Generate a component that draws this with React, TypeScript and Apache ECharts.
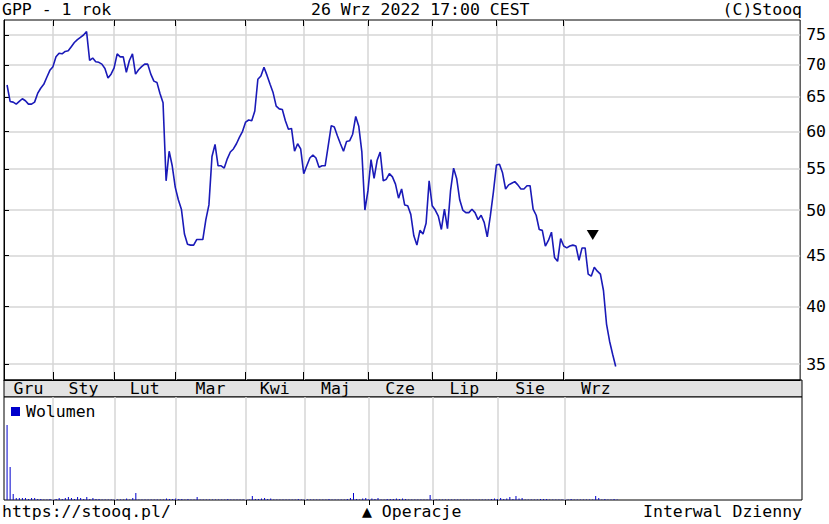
import React, { useEffect, useRef } from 'react';
import * as echarts from 'echarts';

// ---- texts ----
const HEADER_LEFT = 'GPP - 1 rok';
const HEADER_CENTER = '26 Wrz 2022 17:00 CEST';
const HEADER_RIGHT = '(C)Stooq';
const FOOTER_LEFT = 'https://stooq.pl/';
const FOOTER_CENTER = '▲ Operacje';
const FOOTER_RIGHT = 'Interwal Dzienny';
const VOLUME_NAME = 'Wolumen';

// ---- month axis (trading-day index) ----
const MONTH_NAMES = ['Gru', 'Sty', 'Lut', 'Mar', 'Kwi', 'Maj', 'Cze', 'Lip', 'Sie', 'Wrz'];
const MONTH_STARTS = [0, 16, 36, 56, 79, 98, 119, 140, 161, 183, 204];
const DAY_AXIS_MAX = 260.3;

// ---- price ticks ----
const PRICE_TICKS = [35, 40, 45, 50, 55, 60, 65, 70, 75];
const PRICE_MIN = 33.73;
const PRICE_MAX = 77.65;

// ---- closing prices by month (PLN) ----
const PRICE_DEC = [66.8, 64.3, 64.2, 63.9, 64.3, 64.7, 64.4, 63.9, 63.9, 64.2, 65.5, 66.3, 66.9, 68.0, 69.1];
const PRICE_JAN = [69.7, 71.3, 71.9, 71.8, 72.2, 72.3, 73.0, 73.7, 74.2, 74.6, 75.0, 75.6, 70.7, 71.1, 70.5, 70.4, 70.1, 69.4, 67.9, 68.5];
const PRICE_FEB = [69.5, 71.8, 71.3, 71.3, 68.8, 70.7, 71.8, 68.5, 69.2, 69.7, 70.1, 70.1, 68.5, 67.4, 67.2, 65.5, 64.1, 53.5, 57.3, 55.4];
const PRICE_MAR = [52.7, 51.2, 50.1, 47.3, 46.2, 46.1, 46.1, 46.7, 46.7, 46.7, 48.9, 50.6, 56.6, 58.2, 55.4, 55.4, 55.1, 56.3, 57.2, 57.6, 58.3, 59.2, 60.0];
const PRICE_APR = [61.3, 61.6, 61.5, 62.9, 67.7, 68.2, 69.6, 68.3, 66.9, 65.6, 63.6, 63.2, 63.1, 61.5, 60.3, 60.4, 57.3, 58.3, 57.6];
const PRICE_MAY = [54.4, 55.4, 56.4, 56.8, 56.4, 55.2, 55.4, 55.4, 58.0, 60.8, 60.6, 59.4, 58.3, 57.3, 58.6, 58.7, 59.6, 62.1, 60.7, 57.2, 50.0];
const PRICE_JUN = [52.3, 56.2, 53.8, 56.1, 57.2, 53.5, 53.7, 54.4, 54.0, 53.1, 51.4, 52.5, 50.6, 50.5, 49.5, 47.1, 46.1, 47.7, 47.3, 48.5, 53.5];
const PRICE_JUL = [50.5, 50.0, 49.3, 47.8, 50.1, 47.9, 52.3, 55.1, 53.8, 51.2, 50.0, 49.7, 49.7, 50.1, 49.7, 48.9, 49.4, 48.6, 47.0, 49.3, 52.1];
const PRICE_AUG = [55.5, 55.6, 54.5, 52.5, 53.0, 53.2, 53.4, 53.0, 52.5, 52.5, 52.9, 52.9, 50.1, 49.4, 47.8, 47.7, 46.0, 46.6, 47.5, 44.8, 44.4, 46.8];
const PRICE_SEP = [46.0, 45.8, 46.0, 46.1, 46.0, 44.5, 45.8, 45.8, 43.1, 42.9, 43.8, 43.4, 43.1, 41.5, 38.4, 36.9, 35.8, 34.8];

// ---- volume by month (relative units) ----
const VOL_DEC = [75, 33, 6, 2, 2, 2, 2, 1, 2, 2, 1, 1, 0.5, 0.5, 1];
const VOL_JAN = [0.5, 1, 2, 1, 2, 3, 2, 1, 3, 2, 1, 3, 1, 2, 1, 1, 0.5, 0.5, 0.5, 0.5];
const VOL_FEB = [0.5, 0.5, 0.5, 0.5, 1.5, 0.5, 2, 7, 0.5, 0.5, 0.5, 0.5, 0.5, 0.5, 0.5, 0.5, 0.5, 1.5, 1, 1];
const VOL_MAR = [1.5, 1, 1, 0.5, 1, 0.5, 0.5, 3, 0.5, 0.5, 0.5, 0.5, 0.5, 0.5, 0.5, 0.5, 0.5, 1, 0.5, 0.5, 0.5, 0.5, 0.5];
const VOL_APR = [0.5, 0.5, 4, 1, 1, 1.5, 2, 1, 1.5, 0.5, 0.5, 0.5, 0.5, 0.5, 0.5, 0.5, 0.5, 1, 0.5];
const VOL_MAY = [0.5, 0.5, 0.5, 0.5, 0.5, 0.5, 0.5, 0.5, 1, 0.5, 0.5, 0.5, 0.5, 0.5, 1, 2, 7, 1, 0.5, 1.5, 2];
const VOL_JUN = [1, 1.5, 1, 2, 0.5, 0.5, 1, 1, 1, 1.5, 1, 1.5, 1, 0.5, 0.5, 0.5, 0.5, 0.5, 0.5, 0.5, 5];
const VOL_JUL = [0.5, 0.5, 0.5, 0.5, 0.5, 0.5, 0.5, 0.5, 0.5, 0.5, 0.5, 0.5, 0.5, 0.5, 0.5, 0.5, 0.5, 0.5, 0.5, 1, 1.5];
const VOL_AUG = [1, 2, 1, 1.5, 3, 1, 4, 1.5, 2, 0.5, 0.5, 0.5, 0.5, 0.5, 1, 1, 1, 0.5, 0.5, 0.5, 0.5, 0.5];
const VOL_SEP = [0.5, 0.5, 1, 0.5, 0.5, 0.5, 0.5, 0.5, 0.5, 0.5, 4, 2, 0.5, 1, 0.5, 0.5, 1, 0.5];
const VOLUME_MAX = 103;

// ---- operation marker ----
const OPERATION_DAY = 192.5;
const OPERATION_LEVEL = 47.2;

const FONT = "'DejaVu Sans Mono', monospace";
const FS = 16.5;

export default function App() {
  const ref = useRef<HTMLDivElement>(null);

  useEffect(() => {
    if (!ref.current) return;
    const chart = echarts.init(ref.current, null, { renderer: 'svg' });

    const prices = [
      ...PRICE_DEC, ...PRICE_JAN, ...PRICE_FEB, ...PRICE_MAR, ...PRICE_APR,
      ...PRICE_MAY, ...PRICE_JUN, ...PRICE_JUL, ...PRICE_AUG, ...PRICE_SEP,
    ];
    const volumes = [
      ...VOL_DEC, ...VOL_JAN, ...VOL_FEB, ...VOL_MAR, ...VOL_APR,
      ...VOL_MAY, ...VOL_JUN, ...VOL_JUL, ...VOL_AUG, ...VOL_SEP,
    ];
    const lineData = prices.map((p, i) => [i + 1, Math.log(p)]);
    const volData = volumes.map((v, i) => [i + 1, v]);

    const boundaries = MONTH_STARTS.slice(1, MONTH_STARTS.length - 1);
    const mids = MONTH_NAMES.map((_, i) => (MONTH_STARTS[i] + MONTH_STARTS[i + 1]) / 2);
    const yTicks = PRICE_TICKS.map((t) => Math.log(t));

    const textBase = { fontFamily: FONT, fontSize: FS, fontWeight: 'normal' as const, color: '#000' };
    const gridLine = { show: true, lineStyle: { color: '#d6d6d6', width: 1.5 } };

    const option: any = {
      animation: false,
      backgroundColor: '#fff',
      title: [
        { text: HEADER_LEFT, left: 2, top: 1, padding: 0, textStyle: textBase },
        { text: HEADER_CENTER, left: 311, top: 1, padding: 0, textStyle: textBase },
        { text: HEADER_RIGHT, right: 27, top: 1, padding: 0, textStyle: textBase },
        { text: FOOTER_LEFT, left: 2, top: 503, padding: 0, textStyle: textBase },
        { text: FOOTER_CENTER, left: 362, top: 503, padding: 0, textStyle: textBase },
        { text: FOOTER_RIGHT, right: 27, top: 503, padding: 0, textStyle: textBase },
      ],
      legend: {
        data: [{ name: VOLUME_NAME, icon: 'rect' }],
        left: 11,
        top: 403,
        padding: 0,
        itemWidth: 9,
        itemHeight: 9,
        selectedMode: false,
        textStyle: { ...textBase, padding: [0, 0, 0, 1] },
      },
      grid: [
        { left: 4, top: 20, width: 798, height: 360, show: true, borderColor: '#000', borderWidth: 1, backgroundColor: '#fff' },
        { left: 4, top: 380, width: 798, height: 17, show: true, borderColor: '#000', borderWidth: 1, backgroundColor: '#e3e3e3' },
        { left: 4, top: 397, width: 798, height: 103, show: true, borderColor: '#000', borderWidth: 1, backgroundColor: '#fff' },
      ],
      xAxis: [
        {
          type: 'value', gridIndex: 0, position: 'bottom', min: 0, max: DAY_AXIS_MAX,
          axisLine: { show: true, lineStyle: { color: '#000' } },
          axisTick: { show: true, inside: true, length: 8, customValues: boundaries, lineStyle: { color: '#000' } },
          splitLine: gridLine,
          axisLabel: {
            show: true, customValues: mids, margin: 0, lineHeight: 17, verticalAlign: 'top',
            ...textBase,
            formatter: (v: number) => MONTH_NAMES[mids.indexOf(v)] ?? '',
          },
        },
        {
          type: 'value', gridIndex: 0, position: 'top', min: 0, max: DAY_AXIS_MAX,
          axisLine: { show: false },
          axisTick: { show: true, inside: true, length: 6, customValues: boundaries, lineStyle: { color: '#000' } },
          splitLine: { show: false },
          axisLabel: { show: false },
        },
        { type: 'value', gridIndex: 1, min: 0, max: DAY_AXIS_MAX, show: false },
        {
          type: 'value', gridIndex: 2, position: 'top', min: 0, max: DAY_AXIS_MAX,
          axisLine: { show: false },
          axisTick: { show: true, inside: true, length: 5, customValues: boundaries, lineStyle: { color: '#000' } },
          splitLine: gridLine,
          axisLabel: { show: false },
        },
      ],
      yAxis: [
        {
          type: 'value', gridIndex: 0, position: 'right', min: Math.log(PRICE_MIN), max: Math.log(PRICE_MAX),
          axisLine: { show: true, lineStyle: { color: '#000' } },
          axisTick: { show: true, inside: false, length: 5, customValues: yTicks, lineStyle: { color: '#000' } },
          splitLine: gridLine,
          axisLabel: {
            show: true, customValues: yTicks, margin: 6, ...textBase,
            formatter: (v: number) => String(Math.round(Math.exp(v))),
          },
        },
        {
          type: 'value', gridIndex: 0, position: 'left', min: Math.log(PRICE_MIN), max: Math.log(PRICE_MAX),
          axisLine: { show: false },
          axisTick: { show: true, inside: true, length: 4, customValues: yTicks, lineStyle: { color: '#000' } },
          splitLine: { show: false },
          axisLabel: { show: false },
        },
        { type: 'value', gridIndex: 1, min: 0, max: 1, show: false },
        { type: 'value', gridIndex: 2, min: 0, max: VOLUME_MAX, show: false, splitLine: { show: false } },
      ],
      series: [
        {
          name: 'GPP',
          type: 'line',
          xAxisIndex: 0,
          yAxisIndex: 0,
          data: lineData,
          showSymbol: false,
          symbol: 'none',
          lineStyle: { color: '#1a1ab8', width: 1.6 },
          z: 5,
        },
        {
          name: 'Operacje',
          type: 'scatter',
          xAxisIndex: 0,
          yAxisIndex: 0,
          data: [[OPERATION_DAY, Math.log(OPERATION_LEVEL)]],
          symbol: 'triangle',
          symbolRotate: 180,
          symbolSize: [12, 10],
          itemStyle: { color: '#000', opacity: 1 },
          z: 6,
        },
        {
          name: VOLUME_NAME,
          type: 'bar',
          xAxisIndex: 3,
          yAxisIndex: 3,
          data: volData,
          barWidth: 1,
          itemStyle: { color: '#0000cc' },
        },
      ],
    };

    chart.setOption(option);
    return () => chart.dispose();
  }, []);

  return (
    <div
      ref={ref}
      style={{ position: 'absolute', left: 0, top: 0, width: 829, height: 524 }}
    />
  );
}
